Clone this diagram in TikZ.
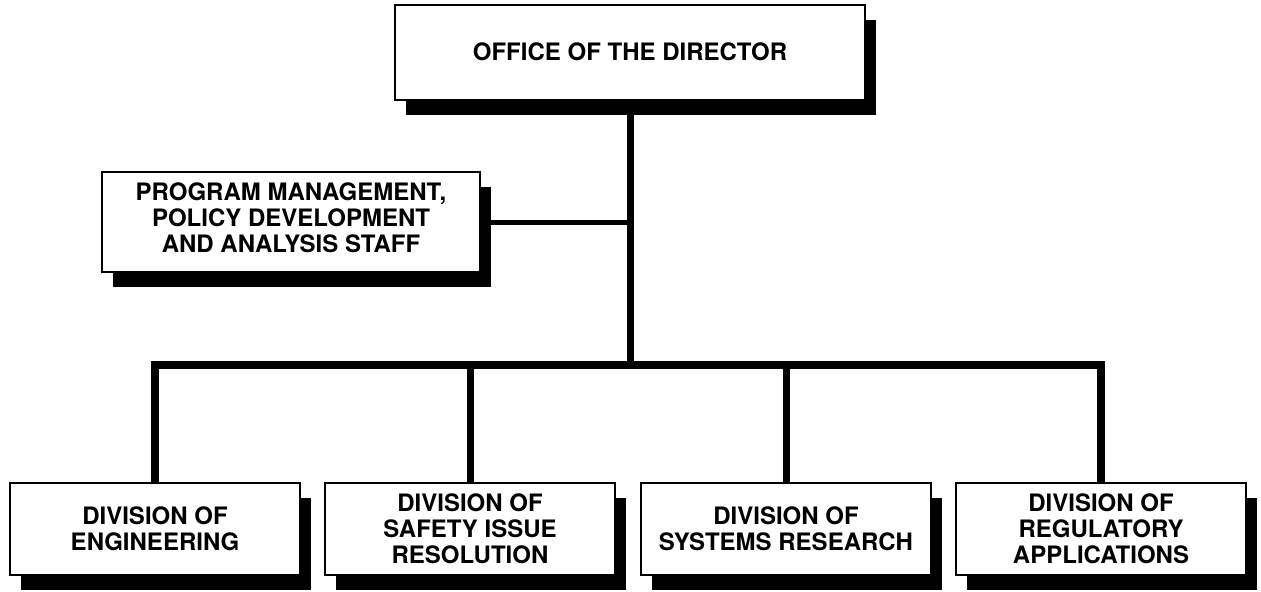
\documentclass[tikz,border=0pt]{standalone}
\usepackage{fontspec}
\setmainfont{TeX Gyre Heros}
\usetikzlibrary{shadows}

\begin{document}
\begin{tikzpicture}[x=0.5pt, y=-0.5pt,
		unit/.style={draw, line width=1pt, fill=white, align=center,
			font=\bfseries\fontsize{12}{13}\selectfont,
			drop shadow={shadow xshift=5.5pt, shadow yshift=-7.5pt, fill=black, opacity=1}},
		division/.style={unit, minimum width=145pt, minimum height=46pt},
		link/.style={line width=3.5pt}]
		\useasboundingbox (0, 0) rectangle (1261, 591);
		
		\node[unit, minimum width=235pt, minimum height=47.5pt] (dir) at (630, 52) {OFFICE OF THE DIRECTOR};
		\node[unit, minimum width=189pt, minimum height=50pt, text depth=4pt] (pm) at (291, 222) {PROGRAM MANAGEMENT,\\POLICY DEVELOPMENT\\AND ANALYSIS STAFF};
		
		\node[division] (eng) at (155, 529) {DIVISION OF\\ENGINEERING};
		\node[division] (sir) at (470, 529) {DIVISION OF\\SAFETY ISSUE\\RESOLUTION};
		\node[division] (sys) at (786, 529) {DIVISION OF\\SYSTEMS RESEARCH};
		\node[division] (reg) at (1101, 529) {DIVISION OF\\REGULATORY\\APPLICATIONS};
		
		\coordinate (bus) at (630, 365); % Горизонтальная шина
		
		\draw[link] (dir.south) -- (bus); % Вертикальная линия
		\draw[line width=2.5pt] (pm.east) -- (pm.east -| dir.south);
		\draw[link, line width=4pt] (eng.north) |- (bus) -| (reg.north);
		\draw[link] (sir.north) -- (sir.north |- bus);
		\draw[link] (sys.north) -- (sys.north |- bus);
	\end{tikzpicture}
\end{document}
